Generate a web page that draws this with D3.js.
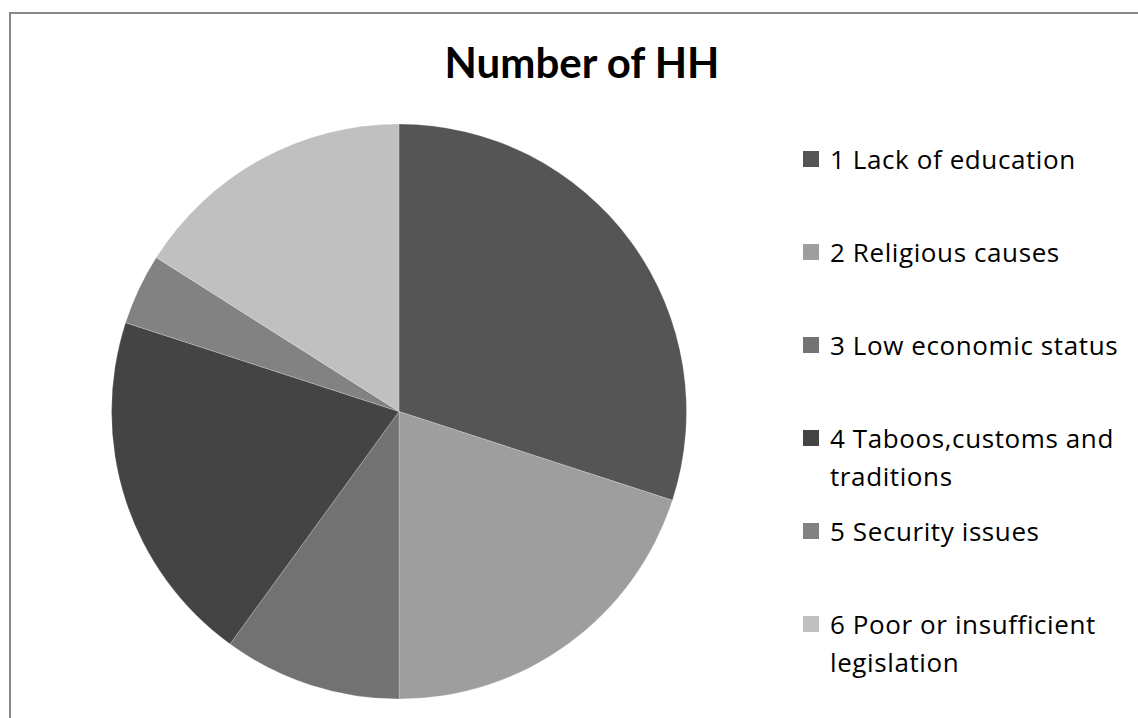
<!DOCTYPE html>
<html>
<head>
<meta charset="utf-8">
<script src="https://cdn.jsdelivr.net/npm/d3@7"></script>
<style>
  html, body { margin: 0; padding: 0; background: #fff; }
  svg { display: block; }
</style>
</head>
<body>
<svg id="chart" width="1138" height="718"></svg>
<script>
// Reasons reported by households, share of HH per reason
const categories = [
  "1 Lack of education",
  "2 Religious causes",
  "3 Low economic status",
  "4 Taboos,customs and traditions",
  "5 Security issues",
  "6 Poor or insufficient legislation"
];
const values = [30, 20, 10, 20, 4, 16];
const colors = ["#555555", "#9e9e9e", "#727272", "#444444", "#828282", "#c0c0c0"];
const title = "Number of HH";

const W = 1138, H = 718;
const svg = d3.select("#chart");
const titleFont = "Lato, Calibri, Carlito, 'Open Sans', sans-serif";
const legendFont = "'Open Sans', Calibri, Carlito, Lato, sans-serif";

// chart frame (runs off the right and bottom edges)
svg.append("rect")
  .attr("x", 10).attr("y", 13)
  .attr("width", W + 20).attr("height", H + 20)
  .attr("fill", "#fff")
  .attr("stroke", "#888")
  .attr("stroke-width", 2);

// title
svg.append("text")
  .attr("x", 582).attr("y", 78)
  .attr("text-anchor", "middle")
  .attr("font-family", titleFont)
  .attr("font-weight", "bold")
  .attr("font-size", 42)
  .attr("fill", "#000")
  .text(title);

// pie
const cx = 399, cy = 411.5, radius = 287.5;
const color = d3.scaleOrdinal().domain(categories).range(colors);
const pie = d3.pie().value(d => d.value).sort(null);
const arc = d3.arc().innerRadius(0).outerRadius(radius);
const data = categories.map((c, i) => ({ name: c, value: values[i] }));

svg.append("g")
  .attr("transform", `translate(${cx},${cy})`)
  .selectAll("path")
  .data(pie(data))
  .join("path")
  .attr("d", arc)
  .attr("fill", d => color(d.data.name))
  .attr("stroke", "#ffffff")
  .attr("stroke-opacity", 0.35)
  .attr("stroke-width", 0.6);

// legend
const legendX = 803, textX = 830, firstBaseline = 169, rowStep = 93;
const lineHeight = 38, maxTextWidth = 305, swatch = 16;
const rowY = d3.scaleLinear().domain([0, 1]).range([firstBaseline, firstBaseline + rowStep]);

const legend = svg.append("g");
data.forEach((d, i) => {
  const y = rowY(i);
  legend.append("rect")
    .attr("x", legendX).attr("y", y - 18)
    .attr("width", swatch).attr("height", swatch)
    .attr("fill", color(d.name));

  const t = legend.append("text")
    .attr("x", textX).attr("y", y)
    .attr("font-family", legendFont)
    .attr("font-size", 26)
    .attr("letter-spacing", 0.6)
    .attr("fill", "#000");

  // wrap the label on word boundaries
  const words = d.name.split(" ");
  let line = [];
  let tspan = t.append("tspan").attr("x", textX).attr("y", y);
  let lineNo = 0;
  words.forEach(w => {
    line.push(w);
    tspan.text(line.join(" "));
    if (tspan.node().getComputedTextLength() > maxTextWidth && line.length > 1) {
      line.pop();
      tspan.text(line.join(" "));
      line = [w];
      lineNo += 1;
      tspan = t.append("tspan").attr("x", textX).attr("y", y + lineNo * lineHeight).text(w);
    }
  });
});
</script>
</body>
</html>
